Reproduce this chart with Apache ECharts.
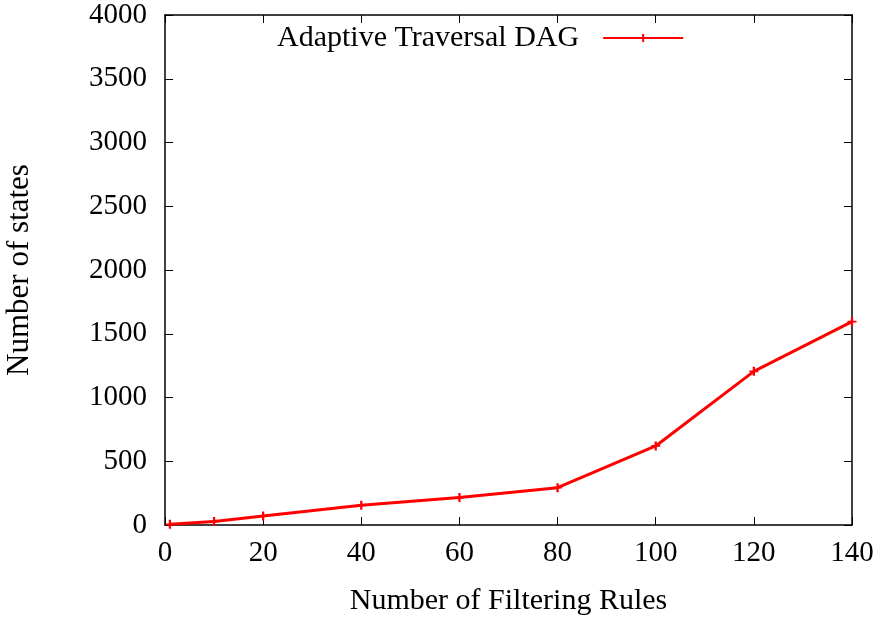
<!DOCTYPE html>
<html><head><meta charset="utf-8">
<script src="https://cdn.jsdelivr.net/npm/echarts@6/dist/echarts.min.js"></script>
<style>html,body{margin:0;padding:0;background:#fff}#c{width:882px;height:620px}</style>
</head><body><div id="c"></div>
<script>
var seriesName = 'Adaptive Traversal DAG';
var xValues = [1, 10, 20, 40, 60, 80, 100, 120, 140];
var yValues = [5, 28, 70, 155, 215, 293, 620, 1205, 1595];
var xTicks = [0, 20, 40, 60, 80, 100, 120, 140];
var yTicks = [0, 500, 1000, 1500, 2000, 2500, 3000, 3500, 4000];

var font = 'Liberation Serif, Times New Roman, serif';
var plus = 'path://M0,4H3V0H5V4H8V6H5V10H3V6H0Z';
var chart = echarts.init(document.getElementById('c'), null, {renderer: 'canvas'});
function axisCommon() {
  return {
    axisLine: {show: true, onZero: false, lineStyle: {color: '#000', width: 1.5}},
    axisTick: {show: true, inside: true, length: 8, lineStyle: {color: '#000', width: 1}},
    splitLine: {show: false}
  };
}
var plain = function (v) { return String(v); };
chart.setOption({
  animation: false,
  textStyle: {fontFamily: font},
  grid: {left: 165, top: 15, width: 687, height: 510, containLabel: false, outerBoundsMode: 'none'},
  legend: {
    data: [{name: seriesName}],
    left: 272, top: 18, align: 'right', itemWidth: 80, itemHeight: 10, itemGap: 10,
    textStyle: {fontFamily: font, fontSize: 30, color: '#000', padding: [0, 19, 0, 0]}
  },
  xAxis: [
    Object.assign({type: 'value', min: xTicks[0], max: xTicks[xTicks.length - 1], interval: 20,
      position: 'bottom', name: 'Number of Filtering Rules', nameLocation: 'middle', nameGap: 61,
      nameTextStyle: {fontFamily: font, fontSize: 30, color: '#000'},
      axisLabel: {fontFamily: font, fontSize: 29, color: '#000', margin: 14, formatter: plain}}, axisCommon()),
    Object.assign({type: 'value', min: 0, max: 140, interval: 20, position: 'top',
      axisLabel: {show: false}}, axisCommon())
  ],
  yAxis: [
    Object.assign({type: 'value', min: yTicks[0], max: yTicks[yTicks.length - 1], interval: 500,
      position: 'left', name: 'Number of states', nameLocation: 'middle', nameGap: 130,
      nameTextStyle: {fontFamily: font, fontSize: 31, color: '#000'},
      axisLabel: {fontFamily: font, fontSize: 29, color: '#000', margin: 18, formatter: plain}}, axisCommon()),
    Object.assign({type: 'value', min: 0, max: 4000, interval: 500, position: 'right',
      axisLabel: {show: false}}, axisCommon())
  ],
  series: [{
    name: seriesName, type: 'line', xAxisIndex: 0, yAxisIndex: 0,
    data: xValues.map(function (x, i) { return [x, yValues[i]]; }),
    symbol: plus, symbolSize: 9, showAllSymbol: true,
    lineStyle: {color: '#ff0000', width: 3},
    itemStyle: {color: '#ff0000'}
  }]
});
</script></body></html>
